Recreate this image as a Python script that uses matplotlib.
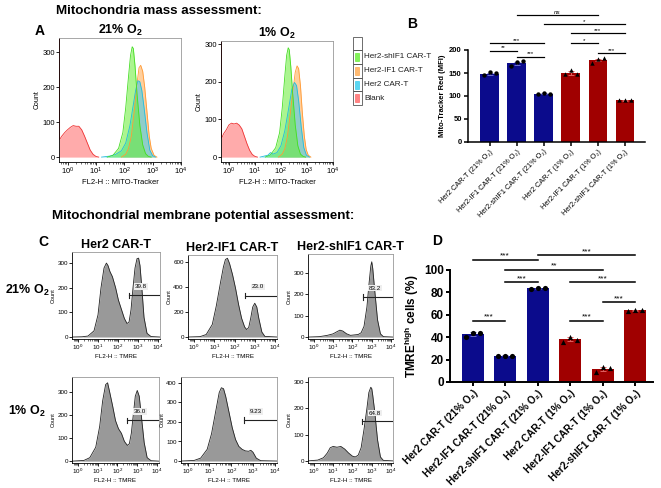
import numpy as np
import matplotlib
matplotlib.use('Agg')
import matplotlib.pyplot as plt
from matplotlib.patches import Rectangle
from matplotlib.ticker import LogLocator, NullFormatter

plt.rcParams['font.family'] = ['Liberation Sans', 'DejaVu Sans']
plt.rcParams['mathtext.fontset'] = 'custom'
plt.rcParams['mathtext.rm'] = 'Liberation Sans'
plt.rcParams['mathtext.bf'] = 'Liberation Sans:bold'
plt.rcParams['mathtext.it'] = 'Liberation Sans:italic'

# ---------------- data ----------------
# A: MITO-Tracker histograms (log10 fluorescence, count)
a21_blank_x = [-0.3, -0.29, -0.28, -0.2, -0.1, 0.0, 0.1, 0.2, 0.3, 0.4, 0.5, 0.6, 0.7, 0.8, 0.9, 1.0, 1.1]
a21_blank_y = [340, 340, 50, 60, 70, 78, 85, 90, 88, 88, 78, 60, 40, 20, 8, 2, 0]
a21_sh_x = [1.4, 1.6, 1.8, 1.95, 2.05, 2.15, 2.22, 2.28, 2.32, 2.38, 2.45, 2.55, 2.65, 2.75, 2.85, 2.95]
a21_sh_y = [0, 5, 25, 70, 140, 230, 290, 315, 310, 260, 180, 90, 35, 10, 2, 0]
a21_if_x = [1.9, 2.05, 2.15, 2.25, 2.35, 2.45, 2.52, 2.58, 2.65, 2.72, 2.8, 2.88, 2.95, 3.05, 3.15]
a21_if_y = [0, 8, 25, 60, 130, 210, 255, 262, 245, 200, 130, 60, 25, 5, 0]
a21_her_x = [1.2, 1.5, 1.7, 1.9, 2.05, 2.2, 2.3, 2.4, 2.48, 2.55, 2.62, 2.7, 2.8, 2.9, 3.0, 3.1]
a21_her_y = [0, 3, 8, 18, 40, 90, 140, 190, 218, 215, 190, 140, 70, 20, 4, 0]

a1_blank_x = [-0.3, -0.29, -0.28, -0.2, -0.1, 0.0, 0.1, 0.2, 0.3, 0.4, 0.5, 0.6, 0.7, 0.8, 0.9, 1.0, 1.1]
a1_blank_y = [310, 310, 50, 62, 72, 85, 90, 88, 90, 85, 75, 55, 35, 18, 7, 2, 0]
a1_sh_x = [1.4, 1.6, 1.8, 1.95, 2.05, 2.15, 2.22, 2.28, 2.32, 2.38, 2.45, 2.55, 2.65, 2.75, 2.85, 2.95]
a1_sh_y = [0, 6, 25, 65, 130, 215, 270, 290, 285, 240, 170, 85, 30, 8, 2, 0]
a1_if_x = [1.9, 2.05, 2.15, 2.25, 2.35, 2.45, 2.55, 2.62, 2.68, 2.75, 2.82, 2.9, 2.97, 3.05, 3.15]
a1_if_y = [0, 8, 22, 55, 110, 170, 225, 242, 235, 190, 120, 55, 20, 5, 0]
a1_her_x = [1.2, 1.5, 1.6, 1.7, 1.85, 2.0, 2.15, 2.3, 2.42, 2.52, 2.6, 2.68, 2.78, 2.88, 2.98, 3.1]
a1_her_y = [0, 5, 12, 8, 12, 30, 70, 130, 180, 198, 190, 150, 80, 25, 5, 0]

# B: Mito-Tracker Red MFI
groups = ['Her2 CAR-T (21% O₂)', 'Her2-IF1 CAR-T (21% O₂)', 'Her2-shIF1 CAR-T (21% O₂)',
          'Her2 CAR-T (1% O₂)', 'Her2-IF1 CAR-T (1% O₂)', 'Her2-shIF1 CAR-T (1% O₂)']
mfi_mean = [148, 171, 105, 150, 178, 91]
mfi_sd = [3, 3, 1.5, 4, 3, 0.8]
mfi_reps = [[145, 153, 149], [165, 174, 175], [104, 107, 104],
            [148, 157, 148], [172, 180, 182], [91, 92, 91]]
mfi_sig = [(1, 4, 276, 'ns'), (2, 5, 256, '*'), (3, 5, 237, '***'), (0, 2, 215, '***'),
           (3, 4, 215, '*'), (0, 1, 198, '**'), (4, 5, 193, '***'), (1, 2, 185, '***')]

# C: TMRE histograms
c_x = {
    'r1c1': [-0.3, 0.2, 0.5, 0.8, 1.0, 1.15, 1.3, 1.42, 1.5, 1.6, 1.72, 1.88, 2.02, 2.18, 2.32, 2.45, 2.55, 2.65,
             2.75, 2.85, 2.95, 3.03, 3.1, 3.2, 3.3, 3.45, 3.65, 4.1],
    'r1c2': [-0.3, 0.3, 0.6, 0.9, 1.1, 1.3, 1.45, 1.55, 1.65, 1.75, 1.9, 2.05, 2.2, 2.35, 2.5, 2.6, 2.7, 2.8,
             2.9, 3.0, 3.1, 3.2, 3.35, 3.5, 4.1],
    'r1c3': [-0.3, 0.3, 0.7, 1.0, 1.2, 1.35, 1.5, 1.7, 1.9, 2.1, 2.3, 2.45, 2.6, 2.75, 2.85, 2.95, 3.0, 3.05,
             3.15, 3.3, 3.45, 3.6, 4.1],
    'r2c1': [-0.3, 0.3, 0.6, 0.9, 1.1, 1.25, 1.4, 1.5, 1.6, 1.75, 1.9, 2.05, 2.2, 2.35, 2.5, 2.6, 2.7, 2.8,
             2.9, 3.0, 3.1, 3.2, 3.35, 3.5, 3.7, 4.1],
    'r2c2': [-0.3, 0.3, 0.6, 0.9, 1.1, 1.3, 1.45, 1.55, 1.65, 1.75, 1.9, 2.05, 2.2, 2.35, 2.5, 2.65, 2.8, 2.9,
             3.0, 3.15, 3.35, 4.1],
    'r2c3': [-0.3, 0.2, 0.5, 0.7, 0.85, 1.0, 1.2, 1.4, 1.6, 1.8, 2.0, 2.15, 2.3, 2.45, 2.6, 2.75, 2.85, 2.95,
             3.0, 3.05, 3.15, 3.3, 3.45, 3.6, 4.1],
}
c_y = {
    'r1c1': [0, 1, 4, 25, 90, 200, 280, 300, 290, 265, 245, 200, 150, 110, 75, 55, 60, 110, 200, 280, 318,
             320, 290, 190, 80, 15, 2, 0],
    'r1c2': [0, 3, 20, 100, 250, 430, 560, 620, 630, 590, 500, 390, 260, 150, 80, 60, 75, 150, 240, 270,
             240, 150, 40, 5, 0],
    'r1c3': [0, 2, 8, 15, 25, 32, 28, 15, 8, 10, 12, 20, 50, 140, 240, 330, 350, 320, 220, 80, 15, 2, 0],
    'r2c1': [0, 3, 15, 60, 150, 260, 330, 338, 300, 240, 175, 140, 120, 85, 68, 75, 120, 200, 280, 305,
             280, 200, 80, 15, 2, 0],
    'r2c2': [0, 3, 15, 60, 140, 260, 350, 375, 370, 330, 250, 170, 110, 75, 60, 52, 50, 55, 45, 15, 2, 0],
    'r2c3': [0, 3, 12, 30, 50, 55, 52, 55, 45, 30, 18, 15, 22, 50, 120, 200, 260, 280, 275, 250, 190, 80,
             15, 2, 0],
}
c_ylim = {'r1c1': (-8, 345), 'r1c2': (-16, 656), 'r1c3': (-9, 386),
          'r2c1': (-8, 363), 'r2c2': (-10, 430), 'r2c3': (-8, 319)}
c_yticks = {'r1c1': [0, 100, 200, 300], 'r1c2': [0, 200, 400, 600], 'r1c3': [0, 100, 200, 300],
            'r2c1': [0, 100, 200, 300], 'r2c2': [0, 100, 200, 300, 400], 'r2c3': [0, 100, 200, 300]}
c_gate = {'r1c1': (2.55, 170, '39.8', 205), 'r1c2': (2.5, 330, '23.0', 400), 'r1c3': (2.55, 186, '83.2', 228),
          'r2c1': (2.5, 177, '36.0', 215), 'r2c2': (2.6, 210, '9.23', 255), 'r2c3': (2.5, 150, '64.8', 182)}

# D: TMRE high cells (%)
tmre_mean = [43, 23.3, 83.5, 38, 12, 64]
tmre_sd = [1.5, 0.4, 0.5, 1.8, 1.8, 0.4]
tmre_reps = [[40, 44, 43.5], [23, 23.5, 23.5], [83, 84, 83.5],
             [36, 40, 37.5], [9, 13.5, 12.5], [63.5, 64.5, 64]]
tmre_sig = [(0, 2, 109, '***'), (2, 5, 113, '***'), (1, 4, 100, '**'), (1, 2, 89, '***'),
            (3, 5, 89, '***'), (4, 5, 71, '***'), (0, 1, 54.5, '***'), (3, 4, 54.5, '***')]

# ---------------- figure ----------------
W, H = 661, 488
fig = plt.figure(figsize=(W / 100, H / 100), dpi=100)


def box(x0, y0, x1, y1):
    return fig.add_axes([x0 / W, 1 - y1 / H, (x1 - x0) / W, (y1 - y0) / H])


def flow_axes(ax, xl, yl, yticks, xlabel, fs=5):
    ax.set_xscale('log')
    ax.set_xlim(10 ** xl[0], 10 ** xl[1])
    ax.set_ylim(*yl)
    ax.set_yticks(yticks)
    ax.set_xticks([1, 10, 100, 1000, 10000])
    ax.xaxis.set_minor_locator(LogLocator(base=10, subs=np.arange(2, 10), numticks=20))
    ax.xaxis.set_minor_formatter(NullFormatter())
    ax.tick_params(labelsize=fs, length=2, width=0.6, pad=1)
    ax.tick_params(which='minor', length=1.2, width=0.4)
    for s in ax.spines.values():
        s.set_color('#999999')
        s.set_linewidth(0.6)
    ax.spines['left'].set_color('black')
    ax.spines['bottom'].set_color('black')
    ax.set_ylabel('Count', fontsize=fs - 0.5, labelpad=1)
    ax.set_xlabel(xlabel, fontsize=fs, labelpad=1)


def fill(ax, lx, cnt, fc, ec, alpha=0.55):
    x = 10 ** np.array(lx, dtype=float)
    ax.fill_between(x, cnt, 0, color=fc, alpha=alpha, lw=0)
    ax.plot(x, cnt, color=ec, lw=0.6)


# ---- A ----
fig.text(159 / W, 1 - 11 / H, 'Mitochondria mass assessment:', ha='center', va='center',
         fontsize=9.6, fontweight='bold')
fig.text(40 / W, 1 - 31 / H, 'A', ha='center', va='center', fontsize=10, fontweight='bold')

green, orange, cyan, red = '#66ee33', '#ffa94d', '#33ccee', '#ff6666'
a_sets = [
    ((59, 38, 181, 162), (-14, 340), '21% O$_\\mathbf{2}$',
     [(a21_if_x, a21_if_y), (a21_her_x, a21_her_y), (a21_sh_x, a21_sh_y), (a21_blank_x, a21_blank_y)]),
    ((221, 41, 333, 162), (-13, 308), '1% O$_\\mathbf{2}$',
     [(a1_if_x, a1_if_y), (a1_her_x, a1_her_y), (a1_sh_x, a1_sh_y), (a1_blank_x, a1_blank_y)]),
]
for pos, yl, ttl, curves in a_sets:
    ax = box(*pos)
    flow_axes(ax, (-0.3, 4.0), yl, [0, 100, 200, 300], 'FL2-H :: MITO-Tracker', fs=5.5)
    for (lx, cnt), fc, ec in zip(curves, [orange, cyan, green, red], ['#ff9933', '#22bbdd', '#44dd22', '#ee3333']):
        fill(ax, lx, cnt, fc, ec)
    ax.set_title(ttl, fontsize=9, fontweight='bold', pad=3)

# legend table
rows = [(37, 50, None, ''), (50, 64, green, 'Her2-shIF1 CAR-T'), (64, 78, orange, 'Her2-IF1 CAR-T'),
        (78, 91, cyan, 'Her2 CAR-T'), (91, 105, red, 'Blank')]
for y0, y1, c, lab in rows:
    fig.patches.append(Rectangle((353 / W, 1 - y1 / H), 9 / W, (y1 - y0) / H, transform=fig.transFigure,
                                 fill=False, ec='#555555', lw=0.6))
    if c:
        fig.patches.append(Rectangle((355 / W, 1 - (y0 + 11) / H), 4.5 / W, 8 / H,
                                     transform=fig.transFigure, fc=c, ec=c, alpha=0.8, lw=0.6))
        fig.text(364 / W, 1 - (y0 + y1) / 2 / H, lab, ha='left', va='center', fontsize=5.9, color='#222222')

# ---- B ----
fig.text(412 / W, 1 - 24 / H, 'B', ha='center', va='center', fontsize=10, fontweight='bold')
blue_c, red_c = '#0b0b8c', '#a00000'
bar_cols = [blue_c] * 3 + [red_c] * 3


def bar_panel(ax, mean, sd, reps, sigs, xlim, ylim, yticks, wbar, ms, fs_sig, lw):
    xs = np.arange(len(mean))
    ax.bar(xs, mean, width=wbar, color=bar_cols, zorder=1)
    for i in range(len(mean)):
        ax.errorbar(xs[i], mean[i], yerr=sd[i], fmt='none', ecolor='#6f6fd0' if i < 3 else '#e06060',
                    capsize=2, elinewidth=0.7, capthick=0.7, zorder=2)
        ax.scatter(xs[i] + np.array([-0.22, 0, 0.22]), reps[i], marker='o' if i < 3 else '^',
                   s=ms, c='black', zorder=3, linewidths=0)
    ax.set_xlim(*xlim)
    ax.set_ylim(*ylim)
    ax.set_yticks(yticks)
    ax.set_xticks(xs)
    for s in ['top', 'right']:
        ax.spines[s].set_visible(False)
    for s in ['left', 'bottom']:
        ax.spines[s].set_linewidth(lw)
    ax.tick_params(width=lw, length=3, pad=1.5)
    for i, j, y, t in sigs:
        ax.plot([i, j], [y, y], color='black', lw=lw * 0.8, clip_on=False)
        ax.annotate(t, ((i + j) / 2, y), xytext=(0, 0.3), textcoords='offset points', ha='center',
                    va='bottom', fontsize=fs_sig, style='italic' if t == 'ns' else 'normal',
                    annotation_clip=False)


axB = box(468, 50, 645, 142)
bar_panel(axB, mfi_mean, mfi_sd, mfi_reps, mfi_sig, (-0.8, 5.75), (0, 200), [0, 50, 100, 150, 200],
          0.68, 10, 4.5, 1.1)
axB.set_xticklabels(groups, rotation=45, ha='right', rotation_mode='anchor', fontsize=5.3)
axB.tick_params(axis='y', labelsize=5.5)
for t in axB.get_yticklabels():
    t.set_fontweight('bold')
axB.set_ylabel('Mito-Tracker Red (MFI)', fontsize=5.5, fontweight='bold', labelpad=2)

# ---- C ----
fig.text(203 / W, 1 - 216 / H, 'Mitochondrial membrane potential assessment:', ha='center', va='center',
         fontsize=9.6, fontweight='bold')
fig.text(43 / W, 1 - 242 / H, 'C', ha='center', va='center', fontsize=10, fontweight='bold')
fig.text(27 / W, 1 - 290 / H, '21% O$_\\mathbf{2}$', ha='center', va='center', fontsize=9, fontweight='bold')
fig.text(27 / W, 1 - 411 / H, '1% O$_\\mathbf{2}$', ha='center', va='center', fontsize=9, fontweight='bold')

c_pos = {'r1c1': (72, 252, 160, 339), 'r1c2': (188, 255, 277, 339), 'r1c3': (308, 254, 393, 339),
         'r2c1': (72, 377, 159, 463), 'r2c2': (181, 377, 277, 463), 'r2c3': (308, 377, 393, 463)}
c_titles = {'r1c1': 'Her2 CAR-T', 'r1c2': 'Her2-IF1 CAR-T', 'r1c3': 'Her2-shIF1 CAR-T'}
for k in c_pos:
    ax = box(*c_pos[k])
    flow_axes(ax, (-0.3, 4.1), c_ylim[k], c_yticks[k], 'FL2-H :: TMRE', fs=4.5)
    x = 10 ** np.array(c_x[k])
    ax.fill_between(x, c_y[k], 0, color='#999999', lw=0)
    ax.plot(x, c_y[k], color='#222222', lw=0.6)
    g0, gy, glab, ly = c_gate[k]
    span = c_ylim[k][1] - c_ylim[k][0]
    ax.plot([10 ** g0, 10 ** 4.1], [gy, gy], color='#222222', lw=0.8)
    ax.plot([10 ** g0] * 2, [gy - 0.03 * span, gy + 0.03 * span], color='#222222', lw=0.8)
    ax.text(10 ** 3.15, ly, glab, ha='center', va='center', fontsize=4.5,
            bbox=dict(fc='#eeeeee', ec='none', pad=0.6))
    if k in c_titles:
        ax.set_title(c_titles[k], fontsize=9, fontweight='bold', pad=3)

# ---- D ----
fig.text(437 / W, 1 - 241 / H, 'D', ha='center', va='center', fontsize=10, fontweight='bold')
axD = box(450, 270, 653, 382)
bar_panel(axD, tmre_mean, tmre_sd, tmre_reps, tmre_sig, (-0.7, 5.55), (0, 100), [0, 20, 40, 60, 80, 100],
          0.68, 14, 6, 1.4)
axD.set_xticklabels(groups, rotation=45, ha='right', rotation_mode='anchor', fontsize=7.2, fontweight='bold')
axD.tick_params(axis='y', labelsize=8.5)
for t in axD.get_yticklabels():
    t.set_fontweight('bold')
axD.set_ylabel('TMRE$^{\\mathbf{high}}$ cells (%)', fontsize=8.5, fontweight='bold', labelpad=2)

fig.savefig('out.png', dpi=100)
